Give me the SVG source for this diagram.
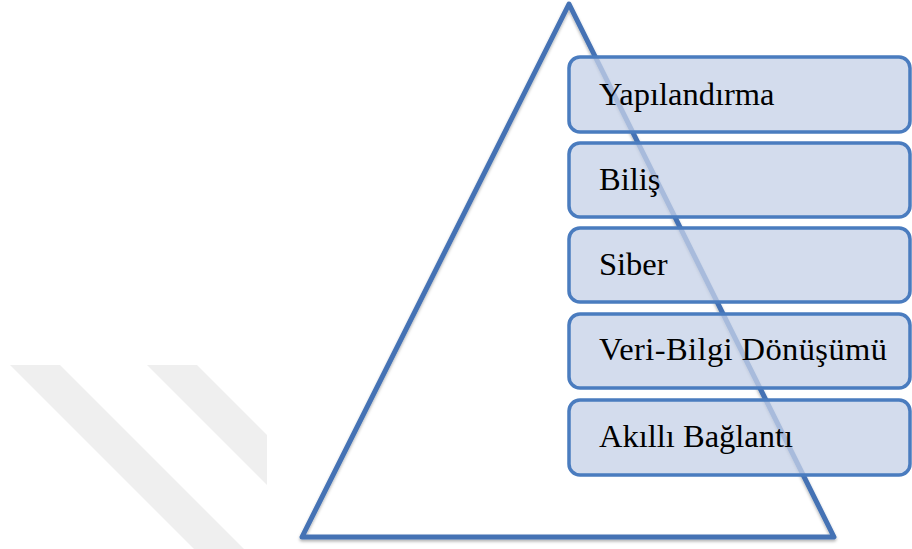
<svg xmlns="http://www.w3.org/2000/svg" width="912" height="549" viewBox="0 0 912 549">
<defs>
<style>
.wm{fill:#efefef;stroke:none}
.tri{fill:none;stroke:#4472b4;stroke-width:5;stroke-linejoin:round}
.box{fill:#c6d1e8;fill-opacity:0.77;stroke:#4a7cbf;stroke-width:3.5}
.lbl{font-family:"Liberation Serif","Times New Roman",serif;font-size:32.5px;fill:#000}
</style>
<filter id="sh" x="-5%" y="-5%" width="110%" height="110%">
<feDropShadow dx="0" dy="2" stdDeviation="1.5" flood-color="#000" flood-opacity="0.3"/>
</filter>
</defs>
<g id="watermark">
<polygon class="wm" points="10,365 60,365 244,549 194,549"/>
<polygon class="wm" points="147,365 197,365 267,435 267,485"/>
</g>
<g id="pyramid">
<polygon class="tri" filter="url(#sh)" points="569,4 834,537 302,537"/>
</g>
<g id="box1"><rect class="box" x="569" y="57" width="341" height="75" rx="11"/><text class="lbl" x="599" y="105">Yapılandırma</text></g>
<g id="box2"><rect class="box" x="569" y="143" width="341" height="74" rx="11"/><text class="lbl" x="599" y="190">Biliş</text></g>
<g id="box3"><rect class="box" x="569" y="228" width="341" height="74" rx="11"/><text class="lbl" x="599" y="275">Siber</text></g>
<g id="box4"><rect class="box" x="569" y="314" width="341" height="74" rx="11"/><text class="lbl" x="599" y="360" textLength="288" lengthAdjust="spacing">Veri-Bilgi Dönüşümü</text></g>
<g id="box5"><rect class="box" x="569" y="400" width="341" height="75" rx="11"/><text class="lbl" x="599" y="447">Akıllı Bağlantı</text></g>
<g id="connectors"/>
</svg>
